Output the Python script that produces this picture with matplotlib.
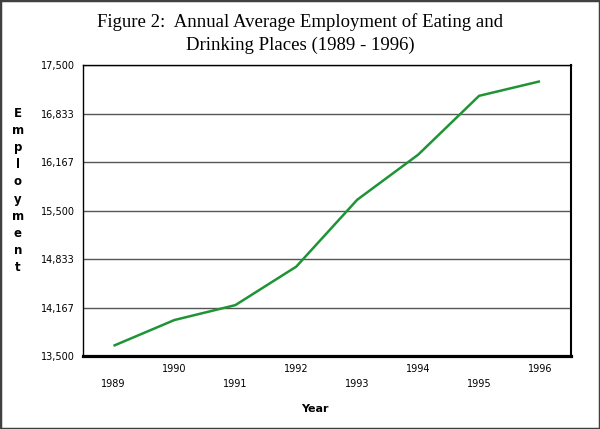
import matplotlib
matplotlib.use("Agg")
import matplotlib.pyplot as plt
from matplotlib.patches import Rectangle

years = ["1989", "1990", "1991", "1992", "1993", "1994", "1995", "1996"]
employment = [13640, 13995, 14200, 14730, 15650, 16270, 17080, 17280]
ytick_values = [13500, 14167, 14833, 15500, 16167, 16833, 17500]
ytick_labels = ["13,500", "14,167", "14,833", "15,500", "16,167", "16,833", "17,500"]
title = "Figure 2:  Annual Average Employment of Eating and\nDrinking Places (1989 - 1996)"
ylabel = "Employment"
xlabel = "Year"

fig = plt.figure(figsize=(6.0, 4.29), dpi=100)
fig.patch.set_facecolor("white")
fig.patches.append(Rectangle((0, 0), 1, 1, transform=fig.transFigure, fill=False,
                             edgecolor="#404040", linewidth=2.5, zorder=10))

ax = fig.add_axes([83/600, 1-356/429, (570.5-83)/600, (356-65.3)/429])
x = list(range(len(years)))
ax.plot(x, employment, color="#1f9436", linewidth=1.8, solid_capstyle="butt", zorder=3)
ax.set_xlim(-0.5, len(years)-0.5)
ax.set_ylim(13500, 17500)
ax.set_yticks(ytick_values)
ax.set_yticklabels(ytick_labels, fontsize=7, family="DejaVu Sans")
ax.tick_params(axis="y", length=0, pad=6)
ax.set_xticks(x)
ax.set_xticklabels([])
ax.tick_params(axis="x", length=0)
for i, yr in enumerate(years):
    off = -28 if i % 2 == 0 else -13
    ax.annotate(yr, xy=(i, 13500), xycoords="data", xytext=(0, off),
                textcoords="offset pixels", ha="center", va="center", fontsize=7,
                family="DejaVu Sans")
ax.grid(axis="y", color="#555555", linewidth=1.0)
ax.set_axisbelow(True)
for s in ["left", "top"]:
    ax.spines[s].set_linewidth(1.0)
ax.spines["right"].set_linewidth(1.5)
ax.spines["bottom"].set_linewidth(2.3)
for s in ax.spines.values():
    s.set_color("black")

fig.text(0.5, 1-22/429, title.split("\n")[0], ha="center", va="center",
         fontsize=13.5, family="Liberation Serif")
fig.text(0.5, 1-45/429, title.split("\n")[1], ha="center", va="center",
         fontsize=13.5, family="Liberation Serif")
fig.text(18/600, 1-190.5/429, "\n".join(ylabel), ha="center", va="center",
         fontsize=8.5, fontweight="bold", family="DejaVu Sans", linespacing=1.415)
fig.text(315/600, 1-409/429, xlabel, ha="center", va="center",
         fontsize=8, fontweight="bold", family="DejaVu Sans")

fig.savefig("out.png", dpi=100, facecolor="white")
